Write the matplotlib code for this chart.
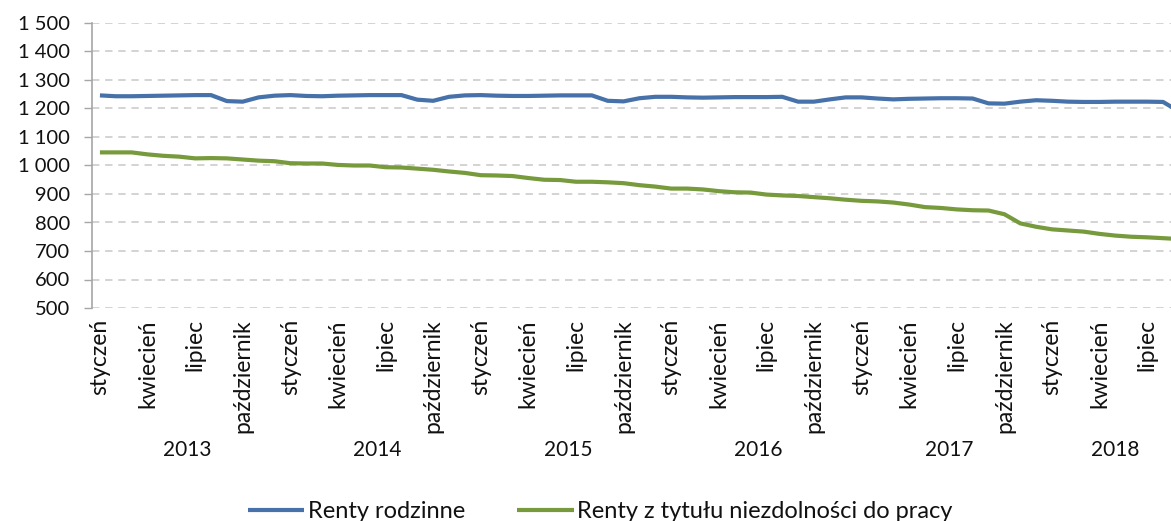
import matplotlib
matplotlib.use("Agg")
import matplotlib.pyplot as plt
import matplotlib.transforms as mtransforms
import numpy as np

years = [2013, 2014, 2015, 2016, 2017, 2018]
month_names = ["styczeń", "kwiecień", "lipiec", "październik"]

renty_rodzinne = [
    1246, 1243, 1243, 1244, 1245, 1246, 1247, 1247, 1226, 1224, 1239, 1245,   # 2013
    1247, 1244, 1243, 1245, 1246, 1247, 1247, 1247, 1231, 1227, 1241, 1246,   # 2014
    1247, 1245, 1244, 1244, 1245, 1246, 1246, 1246, 1227, 1225, 1236, 1241,   # 2015
    1241, 1239, 1238, 1239, 1240, 1240, 1240, 1241, 1224, 1224, 1232, 1239,   # 2016
    1239, 1235, 1232, 1234, 1235, 1236, 1236, 1235, 1218, 1217, 1224, 1229,   # 2017
    1227, 1224, 1223, 1223, 1224, 1224, 1224, 1223, 1190,                     # 2018
]
renty_niezdolnosc = [
    1046, 1046, 1046, 1039, 1034, 1031, 1025, 1026, 1025, 1021, 1017, 1015,  # 2013
    1008, 1007, 1007, 1002, 1000, 1000, 994, 993, 989, 985, 979, 974,         # 2014
    966, 965, 963, 956, 950, 949, 943, 943, 941, 938, 931, 926,               # 2015
    919, 919, 916, 910, 906, 905, 898, 895, 893, 889, 885, 880,               # 2016
    876, 874, 870, 863, 854, 851, 846, 843, 842, 829, 797, 785,               # 2017
    776, 772, 768, 760, 754, 750, 748, 745, 742,                              # 2018
]
series_names = ["Renty rodzinne", "Renty z tytułu niezdolności do pracy"]
colors = ["#4671a9", "#779a3c"]

plt.rcParams['font.family'] = ['Lato', 'DejaVu Sans']

n = len(renty_rodzinne)
x = np.arange(n)

fig = plt.figure(figsize=(11.71, 5.21), dpi=100)
ax = fig.add_axes([92/1171, 1 - 308/521, 1 - 92/1171, (308 - 23)/521])

ax.plot(x, renty_rodzinne, color=colors[0], lw=3.0, label=series_names[0],
        solid_joinstyle='round', solid_capstyle='butt')
ax.plot(x, renty_niezdolnosc, color=colors[1], lw=3.0, label=series_names[1],
        solid_joinstyle='round', solid_capstyle='butt')

ax.set_xlim(-0.5, 67.5)
ax.set_ylim(500, 1500)
yt = np.arange(500, 1501, 100)
ax.set_yticks(yt)
ax.set_yticklabels([f"{v:,}".replace(",", " ") for v in yt], fontsize=14.5)
ax.yaxis.grid(True, color="#c8c8c8", lw=1.1, linestyle=(0, (4.8, 3.8)))
ax.set_axisbelow(True)
for s in ["top", "right", "bottom"]:
    ax.spines[s].set_visible(False)
ax.spines["left"].set_color("#a6a6a6")
ax.spines["left"].set_linewidth(1.2)
ax.tick_params(axis="y", length=6, width=1.0, color="#a6a6a6", pad=10, labelcolor="#111111")

mt = list(range(0, n, 3))
ax.set_xticks(mt)
ax.set_xticklabels([month_names[(i % 12) // 3] for i in mt], rotation=90,
                   fontsize=16.5, va="top", ha="center")
ax.tick_params(axis="x", length=0, pad=8, labelcolor="#111111")

tr = mtransforms.blended_transform_factory(ax.transData, fig.transFigure)
for k, yr in enumerate(years):
    start = 12 * k
    end = min(12 * k + 11, n - 1)
    cx = (start + end) / 2
    ax.text(cx, 1 - 450/521, str(yr), transform=tr,
            ha="center", va="center", fontsize=15, color="#111111")

leg = fig.legend(loc="center", bbox_to_anchor=(600/1171, 1 - 512/521), ncol=2, frameon=False,
                 fontsize=17, handlelength=2.4, handletextpad=0.15, columnspacing=2.2,
                 borderaxespad=0, borderpad=0)
for t in leg.get_texts():
    t.set_color("#111111")

fig.savefig("out.png", dpi=100)
